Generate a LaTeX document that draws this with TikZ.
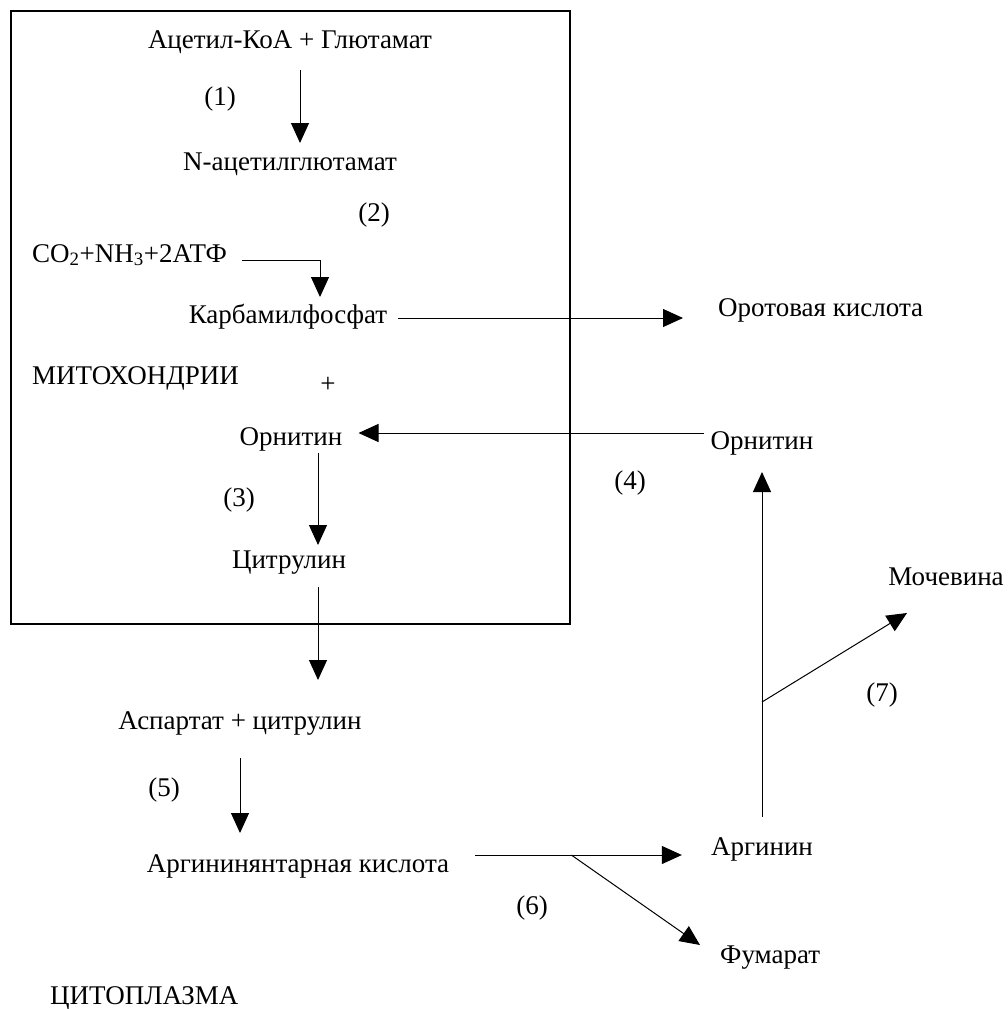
\documentclass[tikz,border=0pt]{standalone}
\usepackage{fontspec}
\setmainfont{Liberation Serif}
\usetikzlibrary{arrows.meta,calc}

\tikzset{
  lbl/.style={inner sep=0pt, anchor=base, font=\fontsize{27}{31}\selectfont},
  lblw/.style={lbl, anchor=base west},
  num/.style={lbl},
  flow/.style={line width=1pt, -{Triangle[length=20pt,width=18pt]}},
}

\begin{document}
\begin{tikzpicture}[x=1pt,y=-1pt]
  \useasboundingbox (0,0) rectangle (1008,1009);

  % mitochondrion boundary
  \draw[line width=1.2pt] (11,11) rectangle (570,624);

  % substances
  \node[lbl]  (acetyl)  at (290,48)  {Ацетил-КоА + Глютамат};
  \node[lbl]  (nacetyl) at (290,170) {N-ацетилглютамат};
  \node[lblw] (co2)     at (32,262)  {CO\textsubscript{2}+NH\textsubscript{3}+2АТФ};
  \node[lbl]  (carb)    at (288,323) {Карбамилфосфат};
  \node[lblw] (orot)    at (718,316) {Оротовая кислота};
  \node[lblw] (mito)    at (32,384)  {МИТОХОНДРИИ};
  \node[lbl, anchor=center] (plus) at (328,385) {+};
  \node[lbl]  (ornL)    at (291,445) {Орнитин};
  \node[lbl]  (ornR)    at (762,449) {Орнитин};
  \node[lbl]  (citr)    at (289,568) {Цитрулин};
  \node[lbl]  (moch)    at (946,585) {Мочевина};
  \node[lbl]  (asp)     at (240,729) {Аспартат + цитрулин};
  \node[lbl]  (argsucc) at (298,872) {Аргининянтарная кислота};
  \node[lbl]  (argn)    at (762,855) {Аргинин};
  \node[lblw] (fum)     at (720,963) {Фумарат};
  \node[lblw] (cyto)    at (50,1004) {ЦИТОПЛАЗМА};

  % reaction numbers
  \node[num] (r1) at (220,105) {(1)};
  \node[num] (r2) at (374,221) {(2)};
  \node[num] (r3) at (239,506) {(3)};
  \node[num] (r4) at (630,489) {(4)};
  \node[num] (r5) at (164,796) {(5)};
  \node[num] (r6) at (532,914) {(6)};
  \node[num] (r7) at (882,701) {(7)};

  % reactions inside the mitochondrion
  \draw[flow] ($(acetyl.base)+(10,22)$) -- ($(nacetyl.base)+(10,-27)$);
  \draw[flow] ($(co2.base east)+(15,-2)$) -| ($(carb.base)+(32,-26)$);
  \draw[flow] ($(carb.base east)+(11,-5)$) -- ($(orot.base west)+(-35,2)$);
  \draw[flow] ($(ornR.base west)+(-7,-16)$) -- ($(ornL.base east)+(16,-12)$);
  \draw[flow] ($(ornL.base)+(27,8)$) -- ($(citr.base)+(29,-23)$);

  % reactions in the cytoplasm
  \draw[flow] ($(citr.base)+(29,19)$) -- ($(asp.base)+(78,-49)$);
  \draw[flow] ($(asp.base)+(0,29)$) -- ($(argsucc.base)+(-58,-39)$);
  \draw[flow] ($(argsucc.base east)+(26,-17)$) -- ($(argn.base west)+(-29,0)$);
  \coordinate (br6) at ($(argsucc.base east)+(122,-17)$);
  \draw[flow] (br6) -- ($(fum.base west)+(-20,-18)$);
  \draw[flow] ($(argn.base)+(0,-38)$) -- ($(ornR.base)+(0,23)$);
  \coordinate (br7) at ($(argn.base)+(0,-153)$);
  \draw[flow] (br7) -- ($(moch.base)+(-39,28)$);
\end{tikzpicture}
\end{document}
